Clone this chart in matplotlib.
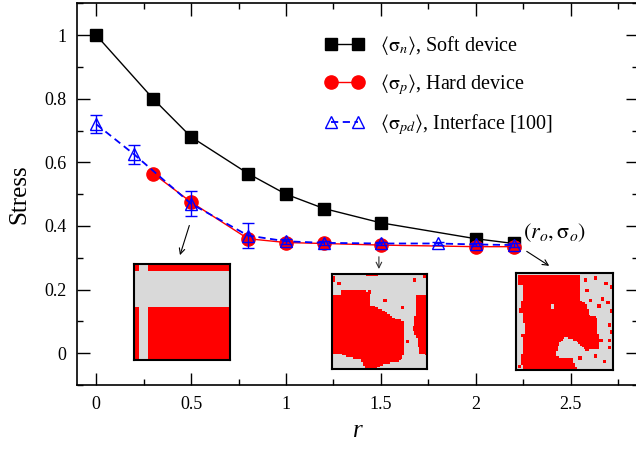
import numpy as np
import matplotlib
matplotlib.use("Agg")
import matplotlib.pyplot as plt
from matplotlib.path import Path
from matplotlib.colors import ListedColormap
from matplotlib.ticker import MultipleLocator

plt.rcParams['font.family'] = ['Liberation Serif', 'DejaVu Serif']
plt.rcParams['mathtext.fontset'] = 'stix'

# data
r_soft = [0, 0.3, 0.5, 0.8, 1.0, 1.2, 1.5, 2.0, 2.2]
s_soft = [1.0, 0.80, 0.68, 0.565, 0.50, 0.455, 0.41, 0.36, 0.345]

r_hard = [0.3, 0.5, 0.8, 1.0, 1.2, 1.5, 2.0, 2.2]
s_hard = [0.565, 0.475, 0.36, 0.348, 0.345, 0.34, 0.335, 0.335]

r_int = [0, 0.2, 0.5, 0.8, 1.0, 1.2, 1.5, 1.8, 2.0, 2.2]
s_int = [0.72, 0.625, 0.47, 0.37, 0.352, 0.347, 0.345, 0.345, 0.342, 0.34]
e_int = [0.028, 0.03, 0.04, 0.04, 0.008, 0.006, 0.005, 0.005, 0.005, 0.005]

labels = [r"$\langle\mathrm{\sigma}_{n}\rangle$, Soft device",
          r"$\langle\mathrm{\sigma}_{p}\rangle$, Hard device",
          r"$\langle\mathrm{\sigma}_{pd}\rangle$, Interface [100]"]

# inset patterns, red regions as polygons in unit coords (u right, v down)
inset1_red = [
    [(0, 0), (1, 0), (1, 0.08), (0, 0.08)],
    [(0, 0.44), (1, 0.44), (1, 1), (0, 1)],
]
inset1_gray = [[(0.05, 0), (0.14, 0), (0.14, 1), (0.05, 1)]]

inset2_red = [
    [(0, 0.24), (0.09, 0.24), (0.09, 0.17), (0.35, 0.17), (0.35, 0.20), (0.40, 0.20),
     (0.40, 0.33), (0.50, 0.37), (0.58, 0.42), (0.65, 0.47), (0.75, 0.50), (0.75, 0.85),
     (0.70, 0.92), (0.55, 0.95), (0.45, 1.0), (0.35, 1.0), (0.30, 0.90), (0.15, 0.87),
     (0.08, 0.84), (0, 0.84)],
    [(0.87, 0.24), (1.0, 0.22), (1.0, 0.86), (0.91, 0.83), (0.89, 0.68), (0.84, 0.60),
     (0.86, 0.50), (0.88, 0.35)],
    [(0.35, 0), (0.48, 0), (0.48, 0.03), (0.35, 0.03)],
    [(0, 0.03), (0.04, 0.03), (0.04, 0.09), (0, 0.09)],
]
inset2_gray = []
inset2_specks = [(0.07, 0.09), (0.38, 0.19), (0.55, 0.27), (0.72, 0.35), (0.85, 0.06),
                 (0.95, 0.03), (0.78, 0.70)]

inset3_red = [
    [(0.02, 0.02), (0.66, 0.02), (0.66, 0.28), (0.72, 0.32), (0.76, 0.44), (0.83, 0.46),
     (0.85, 0.65), (0.85, 0.78), (0.72, 0.80), (0.62, 0.70), (0.50, 0.66), (0.45, 0.72),
     (0.40, 0.86), (0.58, 0.88), (0.63, 1.0), (0.08, 1.0), (0.05, 0.90), (0.08, 0.75),
     (0.05, 0.60), (0.04, 0.40), (0.06, 0.25), (0.02, 0.20)],
]
inset3_gray = [
    [(0.0, 0.12), (0.08, 0.12), (0.08, 0.28), (0.0, 0.28)],
    [(0.0, 0.41), (0.07, 0.41), (0.09, 0.62), (0.0, 0.62)],
    [(0.36, 0.33), (0.40, 0.33), (0.40, 0.37), (0.36, 0.37)],
]
inset3_specks = [(0.82, 0.04), (0.92, 0.10), (0.98, 0.14), (0.73, 0.17), (0.88, 0.26),
                 (0.76, 0.28), (0.84, 0.33), (0.97, 0.38), (0.95, 0.52), (0.75, 0.45),
                 (0.87, 0.69), (0.95, 0.69), (0.66, 0.86), (0.82, 0.84), (0.96, 0.76),
                 (0.02, 0.95), (0.90, 0.90), (0.70, 0.06), (0.93, 0.30), (0.98, 0.60)]


def make_grid(red, gray, specks, n=56):
    c = (np.arange(n) + 0.5) / n
    uu, vv = np.meshgrid(c, c)
    pts = np.column_stack([uu.ravel(), vv.ravel()])
    g = np.zeros(n * n)
    for poly in red:
        p = Path(list(poly) + [poly[0]], closed=True)
        g[p.contains_points(pts)] = 1
    for poly in gray:
        p = Path(list(poly) + [poly[0]], closed=True)
        g[p.contains_points(pts)] = 0
    g = g.reshape(n, n)
    for u, v in specks:
        i, j = int(v * n), int(u * n)
        g[i:i + 2, j:j + 2] = 1
    return g


fig = plt.figure(figsize=(6.36, 4.49), dpi=100)
ax = fig.add_axes([0.1215, 0.1425, 0.882, 0.850])

ax.plot(r_soft, s_soft, color='black', lw=1.0, marker='s', ms=8.5,
        mfc='black', mec='black', label=labels[0], zorder=3)
ax.plot(r_hard, s_hard, color='red', lw=1.0, marker='o', ms=9.5,
        mfc='red', mec='red', label=labels[1], zorder=4)
ax.errorbar(r_int, s_int, yerr=e_int, fmt='none',
            ecolor='blue', elinewidth=1.0, capsize=4.5, capthick=1.0, zorder=5)
ax.plot(r_int, s_int, color='blue', lw=1.3, ls=(0, (4, 2.5)),
        marker='^', ms=8, mfc='none', mec='blue', mew=1.0,
        label=labels[2], zorder=5)

ax.set_xlim(-0.1, 2.857)
ax.set_ylim(-0.1, 1.1)
ax.xaxis.set_minor_locator(MultipleLocator(0.25))
ax.yaxis.set_minor_locator(MultipleLocator(0.1))
ax.set_xticks([0, 0.5, 1, 1.5, 2, 2.5])
ax.set_xticklabels(['0', '0.5', '1', '1.5', '2', '2.5'])
ax.set_yticks([0, 0.2, 0.4, 0.6, 0.8, 1])
ax.set_yticklabels(['0', '0.2', '0.4', '0.6', '0.8', '1'])
ax.tick_params(which='both', direction='in', top=True, right=True,
               labelsize=13, width=1.0)
ax.tick_params(which='major', length=9, pad=8)
ax.tick_params(which='minor', length=4.5)
for sp in ax.spines.values():
    sp.set_linewidth(1.2)

ax.set_xlabel('r', fontsize=18, style='italic', labelpad=5)
ax.set_ylabel('Stress', fontsize=18, labelpad=10)

leg = ax.legend(loc='upper left', bbox_to_anchor=(0.409, 0.968), frameon=False,
                fontsize=14.5, handlelength=1.95, numpoints=2, labelspacing=0.76,
                handletextpad=0.8)

ax.annotate('', xy=(0.437, 0.30), xytext=(0.495, 0.41),
            arrowprops=dict(arrowstyle='->', color='black', lw=0.8))
ax.annotate('', xy=(1.49, 0.256), xytext=(1.49, 0.312),
            arrowprops=dict(arrowstyle='->', color='#333333', lw=0.8))
ax.annotate('', xy=(2.40, 0.27), xytext=(2.257, 0.325),
            arrowprops=dict(arrowstyle='->', color='black', lw=0.8))
ax.text(2.414, 0.378, r"$(r_{o},\mathrm{\sigma}_{o})$", fontsize=16,
        ha='center', va='center')

cmap = ListedColormap(['#d9d9d9', '#ff0000'])
insets = [
    ([0.2112, 0.1982, 0.1505, 0.2131], make_grid(inset1_red, inset1_gray, [])),
    ([0.5215, 0.1775, 0.1503, 0.2125], make_grid(inset2_red, inset2_gray, inset2_specks)),
    ([0.8113, 0.1759, 0.1520, 0.2154], make_grid(inset3_red, inset3_gray, inset3_specks)),
]
for pos, grid in insets:
    iax = fig.add_axes(pos)
    iax.imshow(grid, cmap=cmap, vmin=0, vmax=1, interpolation='nearest', aspect='auto')
    iax.set_xticks([])
    iax.set_yticks([])
    for sp in iax.spines.values():
        sp.set_linewidth(1.5)
        sp.set_color('black')

fig.savefig('out.png', dpi=100)
